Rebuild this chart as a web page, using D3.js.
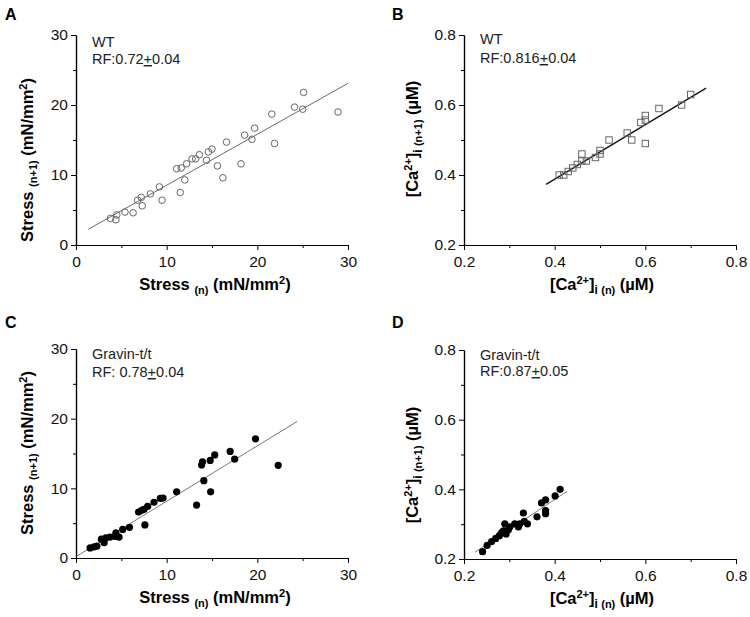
<!DOCTYPE html>
<html><head><meta charset="utf-8">
<script src="https://cdn.jsdelivr.net/npm/d3@7"></script>
<style>
body{margin:0;background:#fff;}
svg{font-family:"Liberation Sans",Arial,sans-serif;}
</style></head>
<body><svg id="c" width="750" height="617"></svg>
<script>
// ---------- DATA ----------
const stressTicks = [0, 10, 20, 30];
const stressMinor = [5, 15, 25];
const caTicks = [0.2, 0.4, 0.6, 0.8];
const caMinor = [0.3, 0.5, 0.7];

const wtStressX = [3.8,4.4,4.5,5.4,6.3,6.8,7.2,7.3,8.2,9.2,9.5,11.1,11.6,11.5,12.0,12.2,12.8,13.2,13.6,14.4,14.6,15.0,15.6,16.2,16.6,18.6,18.2,19.4,19.7,21.6,21.9,24.1,25.0,25.1,28.9];
const wtStressY = [3.8,3.6,4.3,4.7,4.6,6.4,6.8,5.6,7.3,8.3,6.4,10.9,11.0,7.5,9.3,11.6,12.3,12.3,12.9,12.1,13.3,13.7,11.3,9.6,14.7,15.7,11.6,15.1,16.7,18.7,14.5,19.7,19.4,21.8,19.0];
const wtStressFitX = [1.36, 30];
const wtStressFitY = [2.25, 23.1];

const wtCaX = [0.41,0.42,0.43,0.44,0.45,0.46,0.46,0.47,0.49,0.50,0.50,0.52,0.56,0.57,0.59,0.60,0.60,0.60,0.63,0.68,0.70];
const wtCaY = [0.40,0.40,0.41,0.42,0.43,0.46,0.44,0.44,0.45,0.46,0.47,0.50,0.52,0.50,0.55,0.557,0.57,0.49,0.59,0.60,0.63];
const wtCaFitX = [0.381, 0.734];
const wtCaFitY = [0.373, 0.648];

const gvStressX = [1.55,2.0,2.3,2.8,3.1,3.3,3.75,4.3,4.75,4.4,5.15,5.9,6.9,7.25,7.5,7.9,7.6,8.6,9.3,9.6,11.1,13.3,13.85,13.95,14.1,14.8,14.85,15.3,17.0,17.5,19.8,22.3];
const gvStressY = [1.45,1.6,1.7,2.7,2.2,2.9,3.0,3.1,3.0,3.6,4.1,4.4,6.6,6.85,7.0,7.4,4.75,8.0,8.55,8.6,9.5,7.6,13.35,13.8,11.1,14.0,9.5,14.8,15.3,14.2,17.1,13.3];
const gvStressFitX = [0.07, 24.4];
const gvStressFitY = [0.25, 19.6];

const gvCaX = [0.241,0.251,0.261,0.270,0.278,0.283,0.287,0.290,0.293,0.298,0.301,0.312,0.320,0.323,0.331,0.333,0.340,0.361,0.371,0.380,0.380,0.380,0.401,0.412];
const gvCaY = [0.221,0.239,0.250,0.259,0.267,0.276,0.281,0.301,0.272,0.284,0.292,0.301,0.292,0.301,0.332,0.308,0.301,0.321,0.361,0.370,0.339,0.330,0.381,0.400];
const gvCaFitX = [0.224, 0.427];
const gvCaFitY = [0.219, 0.394];

// ---------- DRAW ----------
const svg = d3.select("#c");
const FONT = '"Liberation Sans",Arial,sans-serif';

function panel(o){
  const x = d3.scaleLinear().domain(o.dom).range([o.x0, o.x1]);
  const y = d3.scaleLinear().domain(o.dom).range([o.y0, o.y1]);
  const g = svg.append("g");
  const fmt = o.fmt;
  // minor ticks
  g.append("g").attr("transform",`translate(0,${o.y0})`)
    .call(d3.axisBottom(x).tickValues(o.minor).tickSize(3).tickSizeOuter(0).tickFormat(""));
  g.append("g").attr("transform",`translate(${o.x0},0)`)
    .call(d3.axisLeft(y).tickValues(o.minor).tickSize(3).tickSizeOuter(0).tickFormat(""));
  // major
  const xa = g.append("g").attr("transform",`translate(0,${o.y0})`)
    .call(d3.axisBottom(x).tickValues(o.ticks).tickSize(5).tickSizeOuter(0).tickFormat(fmt).tickPadding(4));
  const ya = g.append("g").attr("transform",`translate(${o.x0},0)`)
    .call(d3.axisLeft(y).tickValues(o.ticks).tickSize(5).tickSizeOuter(0).tickFormat(fmt).tickPadding(3));
  g.selectAll(".domain").attr("stroke","#000").attr("stroke-width",1.2);
  g.selectAll(".tick line").attr("stroke","#000");
  [xa,ya].forEach(a=>a.selectAll("text").attr("font-size",15.5).attr("font-family",FONT).attr("fill","#111"));
  xa.selectAll("text").attr("dy","0.85em");
  // fit line
  g.append("line")
    .attr("x1",x(o.fitX[0])).attr("y1",y(o.fitY[0]))
    .attr("x2",x(o.fitX[1])).attr("y2",y(o.fitY[1]))
    .attr("stroke",o.lineColor).attr("stroke-width",o.lineW);
  // points
  const pts = o.px.map((v,i)=>[v,o.py[i]]);
  if(o.marker==="circle"){
    g.selectAll(".pt").data(pts).enter().append("circle")
      .attr("cx",d=>x(d[0])).attr("cy",d=>y(d[1])).attr("r",3.3)
      .attr("fill","none").attr("stroke","#666").attr("stroke-width",1);
  } else if(o.marker==="square"){
    g.selectAll(".pt").data(pts).enter().append("rect")
      .attr("x",d=>x(d[0])-3.2).attr("y",d=>y(d[1])-3.2).attr("width",6.4).attr("height",6.4)
      .attr("fill","none").attr("stroke","#666").attr("stroke-width",1);
  } else {
    g.selectAll(".pt").data(pts).enter().append("circle")
      .attr("cx",d=>x(d[0])).attr("cy",d=>y(d[1])).attr("r",3.6)
      .attr("fill","#000");
  }
  // annotation
  const ann = g.append("g").attr("font-family",FONT).attr("font-size",14.5).attr("fill","#222");
  ann.append("text").attr("x",o.x0+16).attr("y",o.y1+o.annY1).text(o.group);
  const t = ann.append("text").attr("x",o.x0+16).attr("y",o.y1+o.annY2);
  t.append("tspan").text(o.rf[0]);
  t.append("tspan").attr("text-decoration","underline").text("+");
  t.append("tspan").text(o.rf[1]);
  // panel letter
  svg.append("text").attr("x",o.lx).attr("y",o.ly).attr("font-family",FONT)
    .attr("font-weight","bold").attr("font-size",16).text(o.letter);
  // axis labels
  const xl = svg.append("text").attr("x",(o.x0+o.x1)/2+o.xlOff).attr("y",o.y0+45)
    .attr("text-anchor","middle").attr("font-family",FONT).attr("font-weight","bold").attr("font-size",16.5);
  const yl = svg.append("text").attr("transform",`translate(${o.ylx},${o.yly}) rotate(-90)`)
    .attr("text-anchor","middle").attr("font-family",FONT).attr("font-weight","bold").attr("font-size",16.5);
  o.labelFn(xl, false);
  o.labelFn(yl, true);
}

function stressLabel(t, isY){
  t.append("tspan").text("Stress ");
  t.append("tspan").attr("font-size",11).attr("dy",4).text(isY ? "(n+1)" : "(n)");
  t.append("tspan").attr("dy",-4).text(" (mN/mm");
  t.append("tspan").attr("font-size",11).attr("dy",-6).text("2");
  t.append("tspan").attr("dy",6).text(")");
}
function caLabel(t, isY){
  t.append("tspan").text("[Ca");
  t.append("tspan").attr("font-size",11).attr("dy",-6).text("2+");
  t.append("tspan").attr("dy",6).text("]");
  t.append("tspan").attr("font-size",12).attr("dy",4).text("i ");
  t.append("tspan").attr("font-size",11).text(isY ? "(n+1)" : "(n)");
  t.append("tspan").attr("dy",-4).text(" (\u00B5M)");
}

panel({letter:"A", lx:5, ly:20, dom:[0,30], ticks:stressTicks, minor:stressMinor, fmt:d3.format("d"),
  x0:76, x1:348, y0:245, y1:35, px:wtStressX, py:wtStressY, fitX:wtStressFitX, fitY:wtStressFitY,
  marker:"circle", lineColor:"#6a6a6a", lineW:1, group:"WT", rf:["RF:0.72","0.04"], annY1:12, annY2:29,
  xlOff:3, ylx:33, yly:160, labelFn:stressLabel});
panel({letter:"B", lx:392, ly:20, dom:[0.2,0.8], ticks:caTicks, minor:caMinor, fmt:d3.format(".1f"),
  x0:464, x1:736, y0:245, y1:35, px:wtCaX, py:wtCaY, fitX:wtCaFitX, fitY:wtCaFitY,
  marker:"square", lineColor:"#111", lineW:1.4, group:"WT", rf:["RF:0.816","0.04"], annY1:9, annY2:28,
  xlOff:2, ylx:418, yly:139, labelFn:caLabel});
panel({letter:"C", lx:5, ly:328, dom:[0,30], ticks:stressTicks, minor:stressMinor, fmt:d3.format("d"),
  x0:76, x1:348, y0:558, y1:349, px:gvStressX, py:gvStressY, fitX:gvStressFitX, fitY:gvStressFitY,
  marker:"dot", lineColor:"#777", lineW:1, group:"Gravin-t/t", rf:["RF: 0.78","0.04"], annY1:10, annY2:28,
  xlOff:3, ylx:33, yly:453, labelFn:stressLabel});
panel({letter:"D", lx:392, ly:328, dom:[0.2,0.8], ticks:caTicks, minor:caMinor, fmt:d3.format(".1f"),
  x0:464, x1:736, y0:559, y1:350, px:gvCaX, py:gvCaY, fitX:gvCaFitX, fitY:gvCaFitY,
  marker:"dot", lineColor:"#777", lineW:1, group:"Gravin-t/t", rf:["RF:0.87","0.05"], annY1:10, annY2:26,
  xlOff:2, ylx:418, yly:465, labelFn:caLabel});
</script></body></html>
